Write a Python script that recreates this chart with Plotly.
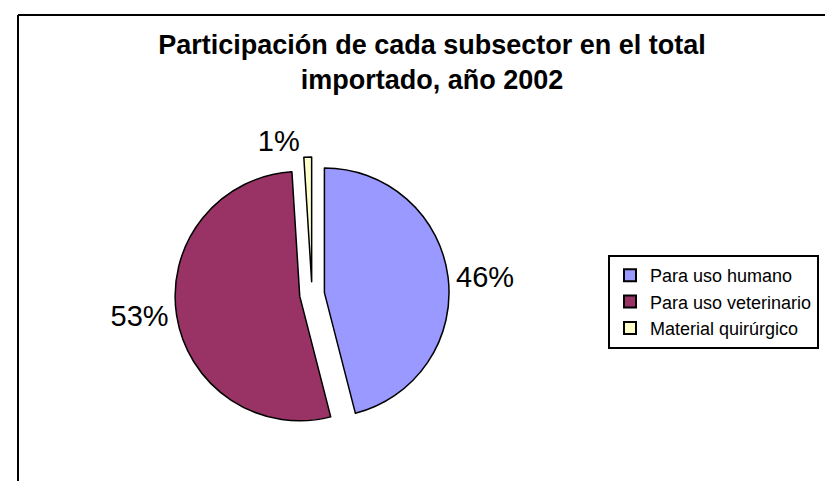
import plotly.graph_objects as go

categories = ["Para uso humano", "Para uso veterinario", "Material quirúrgico"]
shares = [46, 53, 1]
colors = ["#9999FF", "#993366", "#FFFFCC"]
title_text = "Participación de cada subsector en el total<br>importado, año 2002"

W, H = 833, 481
FONT = "Liberation Sans, Arial, sans-serif"

fig = go.Figure(
    go.Pie(
        labels=categories,
        values=shares,
        sort=False,
        direction="clockwise",
        rotation=0,
        pull=[0.1, 0.1, 0.1],
        marker=dict(colors=colors, line=dict(color="black", width=1.5)),
        texttemplate="%{percent:.0%}",
        textposition="outside",
        textfont=dict(family=FONT, size=29, color="black"),
        domain=dict(x=[0.19, 0.54], y=[0.12, 0.69]),
        hoverinfo="label+percent",
        automargin=False,
    )
)

fig.update_layout(
    width=W,
    height=H,
    margin=dict(l=0, r=0, t=0, b=0),
    paper_bgcolor="white",
    plot_bgcolor="white",
    font=dict(family=FONT, color="black"),
    title=dict(
        text="<b>" + title_text + "</b>",
        x=424 / W,
        xanchor="center",
        y=1 - 46 / H,
        yanchor="top",
        font=dict(size=27, color="black"),
    ),
    legend=dict(
        x=600 / W,
        y=1 - 294 / H,
        xanchor="left",
        yanchor="middle",
        bordercolor="black",
        borderwidth=2,
        bgcolor="white",
        font=dict(size=18, color="black"),
        itemsizing="constant",
    ),
    shapes=[
        dict(type="line", xref="paper", yref="paper", x0=10 / W, x1=10 / W, y0=0, y1=1 - 7 / H,
             line=dict(color="black", width=2)),
        dict(type="line", xref="paper", yref="paper", x0=10 / W, x1=1, y0=1 - 7 / H, y1=1 - 7 / H,
             line=dict(color="black", width=2)),
    ],
)

fig.write_html("out.html")
